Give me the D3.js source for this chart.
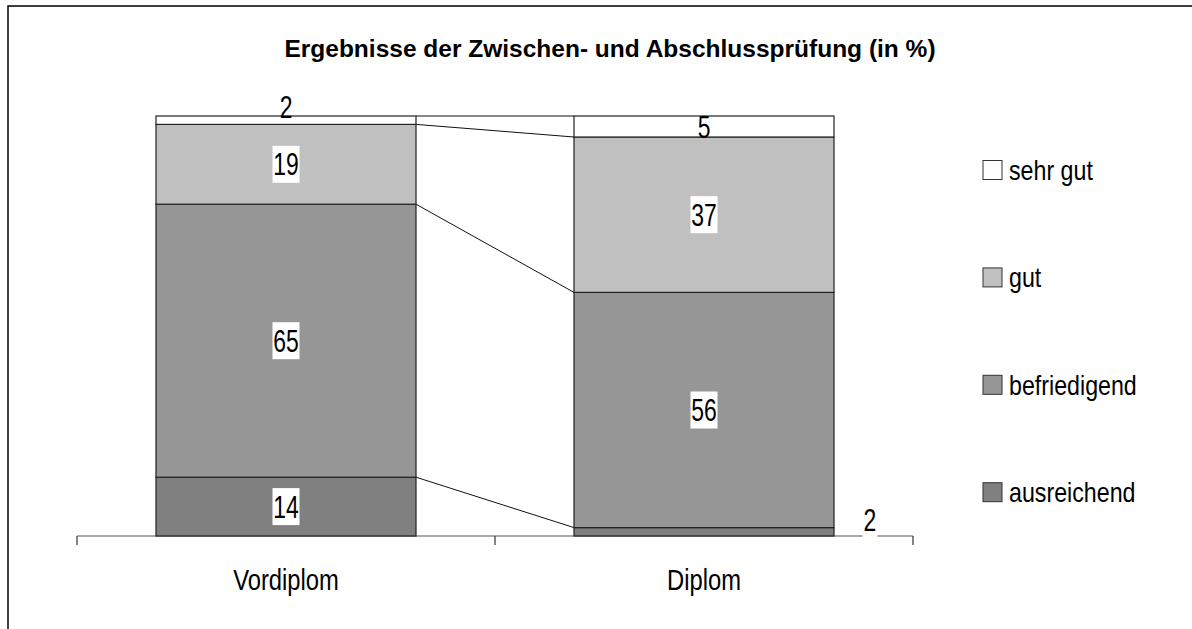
<!DOCTYPE html>
<html>
<head>
<meta charset="utf-8">
<script src="https://cdn.jsdelivr.net/npm/d3@7"></script>
<style>
  html, body { margin: 0; background: #fff; overflow: hidden; }
  svg { display: block; }
  text { font-family: "Liberation Sans", Arial, sans-serif; }
</style>
</head>
<body>
<div id="chart"></div>
<script>
var width = 1192;
var height = 629;

// data (percent)
var categories = ["Vordiplom", "Diplom"];
var grades = ["ausreichend", "befriedigend", "gut", "sehr gut"];
var vordiplom = [14, 65, 19, 2];
var diplom = [2, 56, 37, 5];
var gradeColors = ["#808080", "#969696", "#c0c0c0", "#ffffff"];

var rows = categories.map(function(c, i) {
  var src = i === 0 ? vordiplom : diplom;
  var r = { category: c };
  grades.forEach(function(g, j) { r[g] = src[j]; });
  return r;
});

var svg = d3.select("#chart").append("svg")
  .attr("width", width)
  .attr("height", height);

// outer frame: only left and top edges are inside the picture
svg.append("path")
  .attr("d", "M8," + (height + 10) + "V6H" + (width + 10))
  .attr("fill", "none")
  .attr("stroke", "#000")
  .attr("stroke-width", 1.5);

var x = d3.scaleBand().domain(categories).range([77, 913]);
var y = d3.scaleLinear().domain([0, 100]).range([536, 116]);
var color = d3.scaleOrdinal().domain(grades).range(gradeColors);
var barW = x.bandwidth() * 0.622;
var barOff = (x.bandwidth() - barW) / 2;

var stacked = d3.stack().keys(grades)(rows);

// title
svg.append("text")
  .attr("transform", "translate(610,48)")
  .attr("text-anchor", "middle")
  .attr("dy", "0.35em")
  .style("font-size", "24.5px")
  .style("font-weight", "bold")
  .text("Ergebnisse der Zwischen- und Abschlussprüfung (in %)");

// connector lines between bars
var bounds = grades.map(function(g, k) { return k; });
svg.append("g").selectAll("line")
  .data(bounds)
  .enter().append("line")
    .attr("x1", x(categories[0]) + barOff + barW)
    .attr("x2", x(categories[1]) + barOff)
    .attr("y1", function(k) { return y(stacked[k][0][1]); })
    .attr("y2", function(k) { return y(stacked[k][1][1]); })
    .attr("stroke", "#111")
    .attr("stroke-width", 1);

// axis
var axisG = svg.append("g");
axisG.append("line")
  .attr("x1", x.range()[0]).attr("x2", x.range()[1])
  .attr("y1", y(0)).attr("y2", y(0))
  .attr("stroke", "#555").attr("stroke-width", 1.2);
var tickPos = categories.map(function(c) { return x(c); }).concat([x.range()[1]]);
axisG.selectAll(".tick")
  .data(tickPos)
  .enter().append("line")
    .attr("x1", function(d) { return d; })
    .attr("x2", function(d) { return d; })
    .attr("y1", y(0))
    .attr("y2", y(0) + 9)
    .attr("stroke", "#333").attr("stroke-width", 1.2);
axisG.selectAll(".cat")
  .data(categories)
  .enter().append("text")
    .attr("transform", function(d) { return "translate(" + (x(d) + x.bandwidth() / 2) + ",580) scale(0.82,1)"; })
    .attr("text-anchor", "middle")
    .attr("dy", "0.35em")
    .style("font-size", "29px")
    .text(function(d) { return d; });

// bars
var layer = svg.append("g").selectAll("g")
  .data(stacked)
  .enter().append("g")
    .attr("fill", function(d) { return color(d.key); });

layer.selectAll("rect")
  .data(function(d) { return d; })
  .enter().append("rect")
    .attr("x", function(d) { return x(d.data.category) + barOff; })
    .attr("y", function(d) { return y(d[1]); })
    .attr("width", barW)
    .attr("height", function(d) { return y(d[0]) - y(d[1]); })
    .attr("stroke", "#222")
    .attr("stroke-width", 1.2);

// value labels
var labels = [];
stacked.forEach(function(s, k) {
  s.forEach(function(d) {
    var v = d[1] - d[0];
    var cx = x(d.data.category) + x.bandwidth() / 2;
    var cy = (y(d[0]) + y(d[1])) / 2;
    var box = v >= 10;
    if (v < 4 && k === 0) { cx = x(d.data.category) + barOff + barW + 36; cy = y(d[1]) - 8; box = true; }
    else if (v < 4) { cy = y(d[1]) - 9; }
    labels.push({ v: v, cx: cx, cy: cy, box: box });
  });
});

var lab = svg.append("g").selectAll("g")
  .data(labels)
  .enter().append("g")
    .attr("transform", function(d) { return "translate(" + d.cx + "," + d.cy + ")"; });

lab.filter(function(d) { return d.box; })
  .append("rect")
    .attr("x", function(d) { return -(String(d.v).length * 12 + 3) / 2; })
    .attr("y", -18.5)
    .attr("width", function(d) { return String(d.v).length * 12 + 3; })
    .attr("height", 37)
    .attr("fill", "#fff");

lab.append("text")
  .attr("transform", "scale(0.74,1)")
  .attr("text-anchor", "middle")
  .attr("dy", "0.36em")
  .style("font-size", "31px")
  .text(function(d) { return d.v; });

// legend
var legend = svg.append("g").selectAll("g")
  .data(grades.slice().reverse())
  .enter().append("g")
    .attr("transform", function(d, i) { return "translate(983," + (170 + i * 107.4) + ")"; });

legend.append("rect")
  .attr("x", 0).attr("y", -9.5)
  .attr("width", 19).attr("height", 19)
  .attr("fill", function(d) { return color(d); })
  .attr("stroke", "#333").attr("stroke-width", 1);

legend.append("text")
  .attr("transform", "translate(26,0) scale(0.86,1)")
  .attr("dy", "0.36em")
  .style("font-size", "27px")
  .text(function(d) { return d; });
</script>
</body>
</html>
